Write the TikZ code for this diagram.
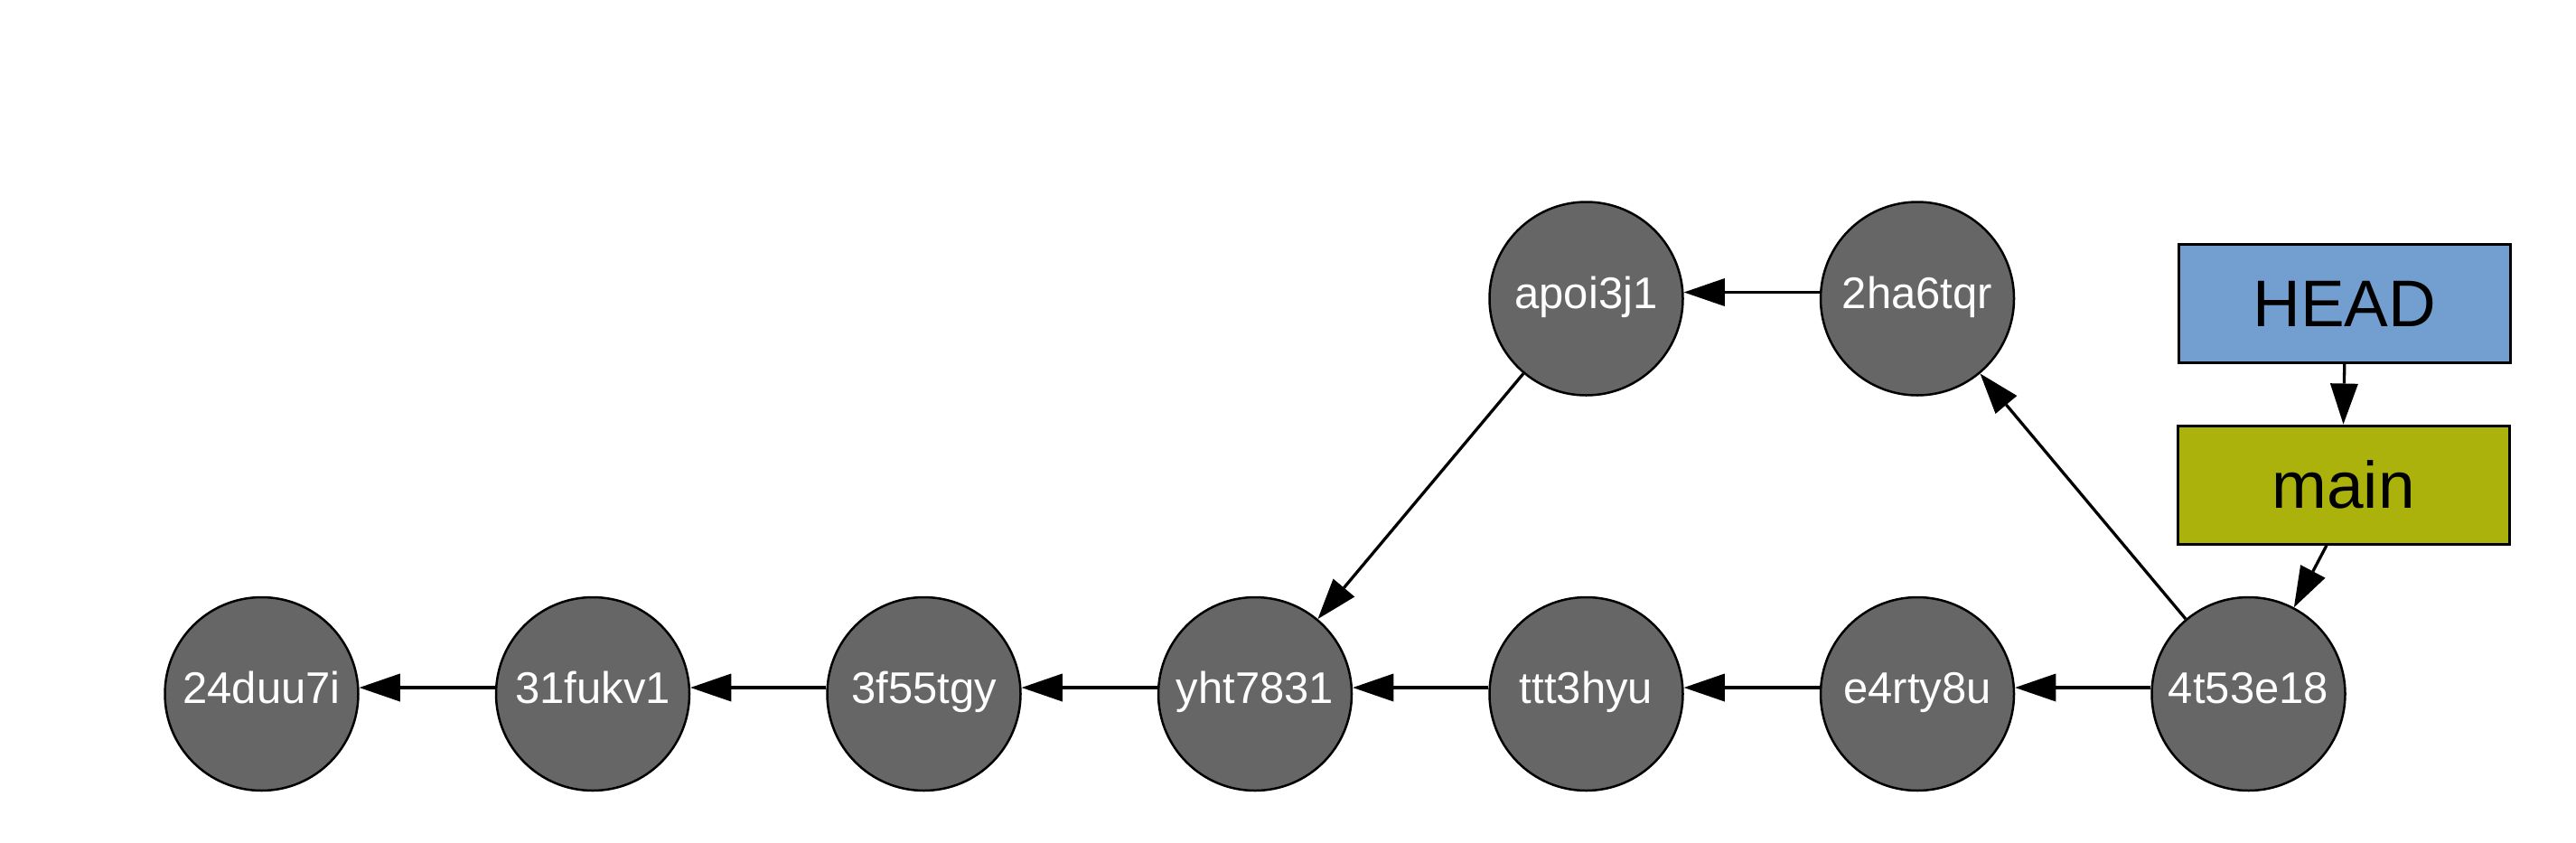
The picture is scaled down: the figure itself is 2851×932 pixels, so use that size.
\documentclass[tikz,border=0pt]{standalone}
\usepackage{fontspec}
\setmainfont{Liberation Sans}
\usetikzlibrary{arrows.meta}
\definecolor{commitgray}{HTML}{666666}
\definecolor{headblue}{HTML}{729FCF}
\definecolor{mainolive}{HTML}{ACB20C}
\tikzset{
  commit/.style={circle, draw=black, line width=2.5pt, fill=commitgray, text=white,
    minimum size=214pt, inner sep=0pt, font=\fontsize{49}{49}\selectfont,
    text height=40pt, text depth=19pt},
  refbox/.style={rectangle, draw=black, line width=3pt, minimum width=367pt,
    minimum height=131pt, inner sep=0pt, text=black, font=\fontsize{73}{73}\selectfont},
  edge/.style={draw=black, line width=3.3pt,
    -{Triangle[length=45pt,width=31pt,line width=0pt]}}
}
\begin{document}
\begin{tikzpicture}[x=1pt,y=-1pt]
\useasboundingbox (0,0) rectangle (2851,932);
\node[commit] (c1) at (289.5,768) {24duu7i};
\node[commit] (c2) at (656,768) {31fukv1};
\node[commit] (c3) at (1022.5,768) {3f55tgy};
\node[commit] (c4) at (1389,768) {yht7831};
\node[commit] (c5) at (1755.5,768) {ttt3hyu};
\node[commit] (c6) at (2122,768) {e4rty8u};
\node[commit] (c7) at (2488.5,768) {4t53e18};
\node[commit] (u1) at (1755.5,330.5) {apoi3j1};
\node[commit] (u2) at (2122,330.5) {2ha6tqr};
\node[refbox, fill=headblue] (head) at (2594.8,336.2) {HEAD};
\node[refbox, fill=mainolive] (main) at (2593.5,536.5) {main};

\draw[edge] ([yshift=7pt]c2.west) -- ([yshift=7pt]c1.east);
\draw[edge] ([yshift=7pt]c3.west) -- ([yshift=7pt]c2.east);
\draw[edge] ([yshift=7pt]c4.west) -- ([yshift=7pt]c3.east);
\draw[edge] ([yshift=7pt]c5.west) -- ([yshift=7pt]c4.east);
\draw[edge] ([yshift=7pt]c6.west) -- ([yshift=7pt]c5.east);
\draw[edge] ([yshift=7pt]c7.west) -- ([yshift=7pt]c6.east);
\draw[edge] ([yshift=7pt]u2.west) -- ([yshift=7pt]u1.east);
\draw[edge] (u1) -- (c4);
\draw[edge] (c7) -- (u2);
\draw[edge] (head.south) -- (main.north);
\draw[edge] ([xshift=-18.5pt]main.south) -- (c7);
\end{tikzpicture}
\end{document}
